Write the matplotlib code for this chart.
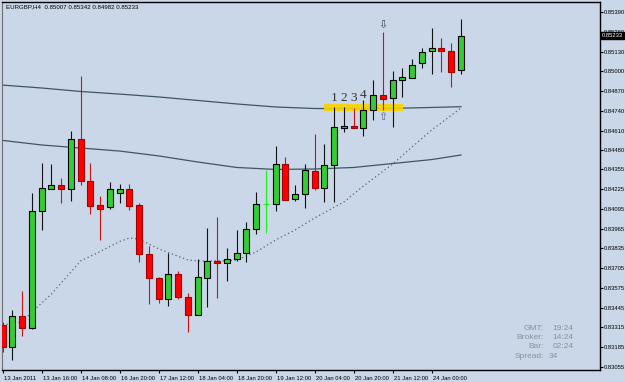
import numpy as np
import matplotlib
matplotlib.use('Agg')
import matplotlib.pyplot as plt
import matplotlib.transforms as mtransforms
from matplotlib import font_manager

# EURGBP H4, 13 Jan 2011 .. 24 Jan 2011
opens = [0.83330, 0.83188, 0.83390, 0.83313, 0.84083, 0.84227, 0.84250, 0.84227,
         0.84552, 0.84280, 0.84120, 0.84109, 0.84197, 0.84227, 0.84118, 0.83798,
         0.83642, 0.83504, 0.83664, 0.83517, 0.83396, 0.83642, 0.83752, 0.83740,
         0.83765, 0.83802, 0.83960, 0.84125, 0.84129, 0.84388, 0.84158, 0.84190,
         0.84346, 0.84230, 0.84383, 0.84625, 0.84642, 0.84629, 0.84745, 0.84844,
         0.84822, 0.84941, 0.84958, 0.85052, 0.85135, 0.85151, 0.85135, 0.85007]
highs = [0.83352, 0.83429, 0.83554, 0.84197, 0.84394, 0.84388, 0.84296, 0.84609,
         0.84969, 0.84394, 0.84179, 0.84273, 0.84256, 0.84260, 0.84135, 0.83850,
         0.83648, 0.83806, 0.83686, 0.83539, 0.83765, 0.83971, 0.84043, 0.83835,
         0.83956, 0.84010, 0.84208, 0.84350, 0.84508, 0.84434, 0.84252, 0.84388,
         0.84585, 0.84519, 0.84765, 0.84767, 0.84756, 0.84811, 0.84943, 0.85260,
         0.85002, 0.85020, 0.85079, 0.85155, 0.85287, 0.85217, 0.85184, 0.85342]
lows = [0.83155, 0.83100, 0.83258, 0.83305, 0.83956, 0.84225, 0.84135, 0.84146,
        0.84252, 0.84061, 0.83890, 0.84096, 0.84135, 0.84087, 0.83745, 0.83467,
        0.83477, 0.83455, 0.83504, 0.83286, 0.83396, 0.83451, 0.83510, 0.83620,
        0.83752, 0.83747, 0.83929, 0.83934, 0.84083, 0.84153, 0.84146, 0.84102,
        0.84219, 0.84142, 0.84138, 0.84602, 0.84625, 0.84574, 0.84679, 0.84745,
        0.84635, 0.84829, 0.84958, 0.85020, 0.84982, 0.84997, 0.84898, 0.84982]
closes = [0.83186, 0.83392, 0.83313, 0.84083, 0.84230, 0.84250, 0.84227, 0.84552,
          0.84280, 0.84115, 0.84096, 0.84223, 0.84223, 0.84115, 0.83796, 0.83642,
          0.83504, 0.83664, 0.83515, 0.83396, 0.83648, 0.83754, 0.83740, 0.83767,
          0.83802, 0.83960, 0.84125, 0.84125, 0.84388, 0.84153, 0.84190, 0.84348,
          0.84230, 0.84383, 0.84631, 0.84642, 0.84625, 0.84745, 0.84844, 0.84820,
          0.84943, 0.84960, 0.85041, 0.85129, 0.85151, 0.85135, 0.84997, 0.85233]

# moving averages, read at a few bars
ma_slow_bars = [0, 4, 8, 12, 16, 20, 24, 28, 32, 36, 40, 44, 47]
ma_slow = [0.84909, 0.84890, 0.84867, 0.84850, 0.84831, 0.84808, 0.84785,
           0.84765, 0.84755, 0.84755, 0.84756, 0.84762, 0.84767]
ma_mid = [0.84545, 0.84515, 0.84495, 0.84475, 0.84443, 0.84403, 0.84367,
          0.84354, 0.84357, 0.84367, 0.84393, 0.84419, 0.84449]
ma_fast_bars = [0, 2, 3, 5, 8, 10, 12, 13, 14, 16, 19, 20, 23, 24, 26, 28,
                30, 32, 35, 37, 40, 44, 47]
ma_fast = [0.83330, 0.83350, 0.83416, 0.83534, 0.83752, 0.83814, 0.83880,
           0.83903, 0.83896, 0.83831, 0.83758, 0.83752, 0.83752, 0.83758,
           0.83811, 0.83890, 0.83956, 0.84035, 0.84140, 0.84245, 0.84390,
           0.84614, 0.84758]

price_ticks = [0.85390, 0.85260, 0.85130, 0.85000, 0.84870, 0.84740, 0.84610,
               0.84480, 0.84355, 0.84225, 0.84095, 0.83965, 0.83835, 0.83705,
               0.83575, 0.83445, 0.83315, 0.83185, 0.83055]
time_tick_bars = [0, 4, 8, 12, 16, 20, 24, 28, 32, 36, 40, 44]
time_labels = ['13 Jan 2011', '13 Jan 16:00', '14 Jan 08:00', '16 Jan 20:00',
               '17 Jan 12:00', '18 Jan 04:00', '18 Jan 20:00', '19 Jan 12:00',
               '20 Jan 04:00', '20 Jan 20:00', '21 Jan 12:00', '24 Jan 00:00']

count_labels = ['1', '2', '3', '4']
count_bars = [34, 35, 36, 37]
count_prices = [0.84824, 0.84824, 0.84824, 0.84844]
zone_bars = [33.0, 41.1]
zone_prices = [0.84741, 0.84785]
arrow_bar = 39
arrow_down_price = 0.85304
arrow_up_price = 0.84696

info_labels = ['GMT:', 'Broker:', 'Bar:', 'Spread:']
info_values = ['19:24', '14:24', '02:24', '34']

bg = '#c9d7e8'
names = {f.name for f in font_manager.fontManager.ttflist}
small = 'Liberation Sans Narrow' if 'Liberation Sans Narrow' in names else 'Liberation Sans'
fs = 4.8 if small == 'Liberation Sans Narrow' else 4.2

fig = plt.figure(figsize=(6.25, 3.82), dpi=100, facecolor=bg)
ax = fig.add_axes([2 / 625, 12 / 382, 598 / 625, 368 / 382])
ax.set_facecolor(bg)

o = np.array(opens)
h = np.array(highs)
l = np.array(lows)
c = np.array(closes)
x = np.arange(len(o))
up = c > o
dn = c < o
dj = c == o

# moving averages
ax.plot(ma_slow_bars, ma_slow, color='#3f5661', lw=0.9, zorder=2)
ax.plot(ma_slow_bars, ma_mid, color='#3f5661', lw=0.9, zorder=2)
ax.plot(ma_fast_bars, ma_fast, color='#56656e', lw=0.9, ls=(0, (1, 2.2)), zorder=2)

# yellow zone + labels
ax.fill_between(zone_bars, zone_prices[0], zone_prices[1], color='#f7d400',
                alpha=0.9, lw=0, zorder=2.5)
for t, b, p in zip(count_labels, count_bars, count_prices):
    ax.text(b, p, t, family='Liberation Serif', fontsize=9.5, color='#333333',
            ha='center', va='center', zorder=6)
ax.text(arrow_bar, arrow_down_price, '\u21e9', fontsize=8, color='#444444',
        ha='center', va='center', zorder=6)
ax.text(arrow_bar, arrow_up_price, '\u21e7', fontsize=8, color='#6a5a92',
        ha='center', va='center', zorder=6)

# candles
ax.vlines(x[up], l[up], h[up], color='#111111', lw=0.8, zorder=3)
ax.vlines(x[dn], l[dn], h[dn], color='#cc1111', lw=0.8, zorder=3)
ax.bar(x[up], (c - o)[up], bottom=o[up], width=0.62, color='#33cc33',
       edgecolor='black', lw=0.8, zorder=4)
ax.bar(x[dn], (o - c)[dn], bottom=c[dn], width=0.62, color='#ff0000',
       edgecolor='#a00000', lw=0.8, zorder=4)
ax.vlines(x[dj], l[dj], h[dj], color='#22ee22', lw=0.8, zorder=3)
ax.hlines(o[dj], x[dj] - 0.33, x[dj] + 0.33, color='#22ee22', lw=0.8, zorder=3)

ax.set_xlim(-0.07, 61.26)
ax.set_ylim(0.83034, 0.85456)

# axes look
for s in ['top', 'right', 'bottom']:
    ax.spines[s].set_color('black')
    ax.spines[s].set_linewidth(1)
ax.spines['left'].set_color('#707070')
ax.yaxis.tick_right()
ax.set_yticks(price_ticks)
ax.set_yticklabels(['%.5f' % v for v in price_ticks])
ax.set_xticks(time_tick_bars)
ax.set_xticklabels(time_labels, ha='left')
ax.tick_params(axis='y', length=2, width=0.8, pad=0.8, labelsize=fs, colors='black')
ax.tick_params(axis='x', length=2.5, width=0.8, pad=1.5, labelsize=fs, colors='black')
for lbl in ax.get_xticklabels() + ax.get_yticklabels():
    lbl.set_family(small)
off = mtransforms.ScaledTranslation(1.5 / 100, 0, fig.dpi_scale_trans)
for lbl in ax.get_xticklabels():
    lbl.set_transform(lbl.get_transform() + off)

# current price box
ax.text(1.0035, closes[-1], '%.5f' % closes[-1], transform=ax.get_yaxis_transform(),
        family=small, fontsize=fs, color='white', ha='left', va='center',
        bbox=dict(facecolor='black', edgecolor='black', pad=0.7), clip_on=False, zorder=10)

# header
ax.text(0.0067, 0.988, 'EURGBP,H4  %.5f %.5f %.5f %.5f' % (opens[-1], highs[-1], lows[-1], closes[-1]),
        transform=ax.transAxes, family=small, fontsize=fs + 0.2, color='black',
        ha='left', va='center')

# info block
rows = [0.1133, 0.0878, 0.0633, 0.038]
for lab, val, yy in zip(info_labels, info_values, rows):
    ax.text(0.9064, yy, lab, transform=ax.transAxes, family='Liberation Sans',
            fontsize=6, color='#8a929c', ha='right', va='center')
    xv = 0.9136 if lab == 'Spread:' else 0.9209
    ax.text(xv, yy, val, transform=ax.transAxes, family='Liberation Sans',
            fontsize=6, color='#8a929c', ha='left', va='center')

fig.savefig('out.png', dpi=100, facecolor=bg)
